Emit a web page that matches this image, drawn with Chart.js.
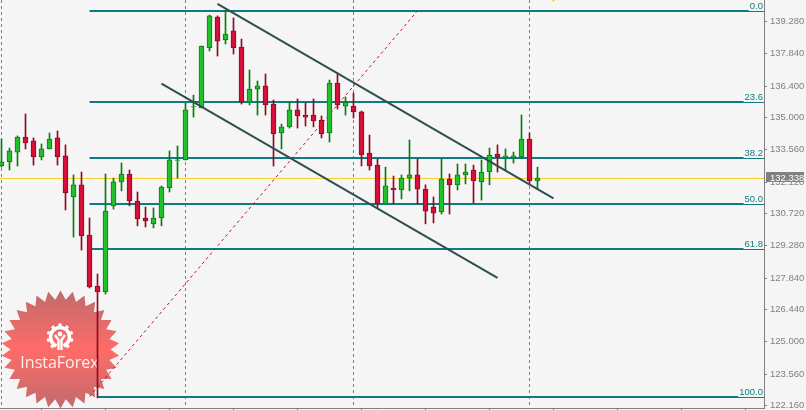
<!DOCTYPE html>
<html>
<head>
<meta charset="utf-8">
<title>InstaForex chart</title>
<script src="https://cdn.jsdelivr.net/npm/chart.js@4/dist/chart.umd.min.js"></script>
<style>
html, body { margin: 0; padding: 0; background: #f5f5f5; overflow: hidden; }
canvas { display: block; }
</style>
</head>
<body>
<canvas id="chart" width="806" height="410"></canvas>
<script>
// candles, one entry per bar
const opens = [132.84,133.02,133.46,134.13,133.96,133.24,133.60,134.09,133.29,131.46,132.00,129.76,127.49,127.22,131.06,132.13,132.48,131.28,130.52,130.26,130.52,131.86,133.09,133.11,135.47,135.43,138.10,139.48,138.46,138.86,138.14,135.69,136.27,136.41,135.60,134.31,134.58,135.34,135.11,135.11,134.89,134.31,136.54,135.51,135.51,135.25,133.42,132.88,131.15,131.86,131.77,132.30,132.44,131.81,131.01,130.79,132.26,132.00,132.44,132.66,132.13,132.57,133.37,133.24,133.20,133.24,134.04,132.17];
const highs = [134.04,133.64,134.18,135.16,134.09,133.82,134.31,134.40,133.78,132.44,132.57,130.52,128.02,132.48,132.30,132.97,132.66,131.68,131.01,130.97,131.95,133.51,133.73,135.65,136.00,138.19,139.57,139.53,139.79,139.44,138.50,137.12,136.63,136.94,135.78,134.71,135.69,135.83,135.65,135.83,135.07,136.67,136.99,135.92,136.09,135.29,134.22,133.15,132.79,132.39,132.44,134.00,133.15,132.00,131.46,133.15,132.48,132.93,132.93,132.88,133.11,133.64,133.78,133.60,133.46,135.11,134.31,132.79];
const lows = [132.79,132.66,132.84,133.60,132.88,133.11,133.60,132.88,130.88,129.67,129.09,127.40,122.50,127.13,130.92,131.73,131.06,130.17,130.12,130.08,130.17,131.68,132.30,133.11,135.02,135.43,137.97,137.74,138.28,137.83,135.60,135.56,135.11,135.11,132.84,133.60,134.53,134.53,134.62,134.58,134.09,133.91,135.38,135.11,134.98,132.84,132.66,130.97,131.15,131.15,131.37,131.73,131.15,130.26,130.30,130.70,130.70,131.77,132.04,131.19,131.32,132.00,132.57,132.66,132.97,133.20,132.04,131.81];
const closes = [133.02,133.51,134.13,133.87,133.24,133.60,134.04,133.24,131.64,132.00,129.72,127.45,127.22,130.83,132.13,132.48,131.28,130.48,130.39,130.52,131.90,133.11,133.11,135.34,135.49,138.19,139.53,138.41,138.72,138.10,135.69,136.27,136.41,135.56,134.27,134.58,135.34,135.07,135.02,134.85,134.27,136.54,135.56,135.69,135.25,133.33,132.84,131.15,131.95,131.77,132.30,132.44,131.81,130.83,130.74,132.26,132.00,132.44,132.57,132.17,132.57,133.33,133.24,133.29,133.29,134.04,132.17,132.30];

// axis
const priceTicks = [139.28,137.84,136.40,135.00,133.56,132.12,130.72,129.28,127.84,126.44,125.00,123.56,122.16];
const sessionBars = [0,23,44,66];
const timeTicks = [5,13,21,29,37,45,53,61,69,77,85,93];

// fibonacci
const fibNames = ['0.0','23.6','38.2','50.0','61.8','100.0'];
const fibPrices = [139.750,135.693,133.196,131.145,129.139,122.540];
const fibStartBar = 11;
const fibDiagonalBars = [11,52];
const fibDiagonalPrices = [122.56,139.76];

// channel
const upperBars = [27,69];
const upperPrices = [140.07,131.40];
const lowerBars = [20,62];
const lowerPrices = [136.51,127.85];

// last price, plotted where the line sits, label as printed
const lastPrice = 132.282;
const lastPriceLabel = '132.338';
const markerBar = 69;
const markerPrice = 140.28;

const xMin = -0.1875, xMax = 95.3125;
const yMin = 122.05, yMax = 140.24;

const GREEN = '#22c02c', GREEN_DARK = '#0c7a12';
const RED = '#d30f3a', RED_DARK = '#8e0b20';
const TEAL = '#0e7c80', SLATE = '#2f4f4f', GREY = '#808080', GOLD = '#f7cf2f';
const FONT = '"Liberation Sans", sans-serif';

function isUp(i) { return closes[i] >= opens[i]; }

const wicks = opens.map((o, i) => ({x: i, y: [lows[i], highs[i]]}));
const bodies = opens.map((o, i) => ({x: i, y: [o, closes[i]]}));

function hLine(price, from) {
    return {type: 'line', data: [{x: from, y: price}, {x: xMax, y: price}], borderColor: TEAL, borderWidth: 2, pointRadius: 0, order: 6};
}
function segment(xs, ys, color, width, dash, order) {
    return {type: 'line', data: xs.map((x, i) => ({x: x, y: ys[i]})), borderColor: color, borderWidth: width, borderDash: dash, pointRadius: 0, order: order};
}

const datasets = [
    segment([xMin, xMax], [lastPrice, lastPrice], GOLD, 1, [], 7),
    ...fibPrices.map(p => hLine(p, p === fibPrices[5] ? 12 : fibStartBar)),
    segment(fibDiagonalBars, fibDiagonalPrices, '#c8102e', 1, [3, 3], 5),
    {type: 'bar', data: wicks, barThickness: 1, grouped: false, order: 4,
        backgroundColor: c => isUp(c.dataIndex) ? GREEN_DARK : RED_DARK},
    {type: 'bar', data: bodies, barThickness: 5, grouped: false, order: 3, borderWidth: 1, borderSkipped: false,
        backgroundColor: c => isUp(c.dataIndex) ? GREEN : RED,
        borderColor: c => isUp(c.dataIndex) ? GREEN_DARK : RED_DARK},
    segment(upperBars, upperPrices, SLATE, 2, [], 2),
    segment(lowerBars, lowerPrices, SLATE, 2, [], 2),
    {type: 'line', data: [{x: markerBar, y: markerPrice}], showLine: false, order: 1, pointStyle: 'triangle',
        rotation: 180, pointRadius: 2.5, pointBackgroundColor: GOLD, pointBorderColor: GOLD}
];

// the watermark, sits under everything
function drawLogo(ctx) {
    const cx = 60.5, cy = 349.5, R = 59, r = 50, spikes = 30;
    ctx.save();
    const g = ctx.createLinearGradient(0, cy - R, 0, cy + R);
    g.addColorStop(0, '#c06c6c');
    g.addColorStop(0.5, '#ff6b68');
    g.addColorStop(1, '#c06c6c');
    ctx.fillStyle = g;
    ctx.beginPath();
    for (let i = 0; i < spikes * 2; i++) {
        const a = i * Math.PI / spikes - Math.PI / 2;
        const rad = i % 2 ? r : R;
        ctx.lineTo(cx + Math.cos(a) * rad, cy + Math.sin(a) * rad);
    }
    ctx.closePath();
    ctx.fill();

    // gear
    const gx = 60, gy = 337;
    ctx.strokeStyle = '#fff';
    ctx.fillStyle = '#fff';
    ctx.lineWidth = 3.5;
    ctx.beginPath();
    ctx.arc(gx, gy, 9.5, Math.PI * 0.62, Math.PI * 2.38);
    ctx.stroke();
    ctx.lineWidth = 3.2;
    for (let i = 0; i < 9; i++) {
        const a = Math.PI * 0.72 + i * Math.PI * 1.56 / 8;
        ctx.beginPath();
        ctx.moveTo(gx + Math.cos(a) * 10, gy + Math.sin(a) * 10);
        ctx.lineTo(gx + Math.cos(a) * 13.5, gy + Math.sin(a) * 13.5);
        ctx.stroke();
    }
    ctx.beginPath();
    ctx.arc(gx, gy - 3, 2.4, 0, Math.PI * 2);
    ctx.fill();
    ctx.lineWidth = 2.4;
    ctx.beginPath();
    ctx.moveTo(gx - 5, gy - 2);
    ctx.lineTo(gx - 1.5, gy + 3);
    ctx.lineTo(gx - 1.5, gy + 13);
    ctx.moveTo(gx + 5, gy - 2);
    ctx.lineTo(gx + 1.5, gy + 3);
    ctx.lineTo(gx + 1.5, gy + 13);
    ctx.stroke();

    ctx.font = '16px "Open Sans", sans-serif';
    ctx.textAlign = 'center';
    ctx.textBaseline = 'alphabetic';
    ctx.fillStyle = '#ffeeec';
    ctx.fillText('InstaForex', 59.5, 368);
    ctx.restore();
}

const overlay = {
    id: 'overlay',
    beforeDatasetsDraw(chart) {
        drawLogo(chart.ctx);
    },
    afterDraw(chart) {
        const ctx = chart.ctx, y = chart.scales.y;
        ctx.save();
        ctx.font = '9.5px ' + FONT;
        ctx.textAlign = 'right';
        ctx.textBaseline = 'alphabetic';
        fibNames.forEach((name, i) => {
            const py = y.getPixelForValue(fibPrices[i]);
            const w = ctx.measureText(name).width + 2;
            ctx.fillStyle = '#f5f5f5';
            ctx.fillRect(chart.chartArea.right - w, py - 11, w, 11);
            ctx.fillStyle = TEAL;
            ctx.fillText(name, chart.chartArea.right - 1, py - 2);
        });
        // price tag on the axis
        const py = y.getPixelForValue(lastPrice);
        ctx.fillStyle = GREY;
        ctx.fillRect(766, py - 6.5, 38, 10);
        ctx.fillStyle = '#fff';
        ctx.textAlign = 'left';
        ctx.fillText(lastPriceLabel, 770, py + 2.5);
        ctx.restore();
    }
};

// chart.js leaves room for the outer tick labels, the plot here runs to the edge
function noPadding(s) {
    s.paddingTop = s.paddingBottom = s.paddingLeft = s.paddingRight = 0;
}

new Chart(document.getElementById('chart'), {
    type: 'bar',
    data: {datasets: datasets},
    plugins: [overlay],
    options: {
        responsive: false,
        animation: false,
        layout: {padding: 0, autoPadding: false},
        plugins: {legend: {display: false}, tooltip: {enabled: false}},
        scales: {
            x: {
                type: 'linear', min: xMin, max: xMax, offset: false,
                afterBuildTicks: s => { s.ticks = sessionBars.concat(timeTicks).map(v => ({value: v})); },
                afterFit: s => { s.height = 2; noPadding(s); },
                ticks: {display: false},
                border: {color: GREY, dash: [3, 3]},
                grid: {
                    offset: false, tickLength: 2, lineWidth: 1,
                    color: c => sessionBars.includes(c.tick && c.tick.value) ? GREY : 'rgba(0,0,0,0)',
                    tickColor: c => sessionBars.includes(c.tick && c.tick.value) ? 'rgba(0,0,0,0)' : GREY
                }
            },
            y: {
                position: 'right', min: yMin, max: yMax,
                afterBuildTicks: s => { s.ticks = priceTicks.map(v => ({value: v})); },
                afterFit: s => { s.width = 42; noPadding(s); },
                border: {color: GREY},
                grid: {drawOnChartArea: false, tickLength: 3, tickColor: GREY},
                ticks: {
                    color: GREY, padding: 3, autoSkip: false, maxRotation: 0,
                    font: {family: FONT, size: 9.5},
                    callback: v => v.toFixed(3)
                }
            }
        }
    }
});
</script>
</body>
</html>
